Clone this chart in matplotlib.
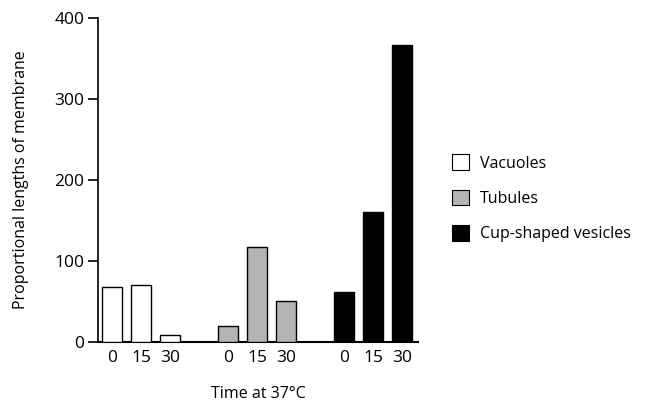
import numpy as np
import matplotlib.pyplot as plt
from matplotlib.patches import Patch

plt.rcParams['font.family'] = ['Open Sans', 'DejaVu Sans']

# data
times = ['0', '15', '30']
categories = ['Vacuoles', 'Tubules', 'Cup-shaped vesicles']
vacuoles = [68, 70, 9]
tubules = [19, 117, 51]
cup_vesicles = [62, 160, 366]

series = [vacuoles, tubules, cup_vesicles]
colors = ['white', '#b4b4b4', 'black']

fig = plt.figure(figsize=(6.46, 4.05), dpi=100)
ax = fig.add_axes([0.152, 0.156, 0.495, 0.800])

tick_pos = []
tick_lab = []
for g, (vals, col) in enumerate(zip(series, colors)):
    pos = np.arange(len(vals)) + 4 * g
    ax.bar(pos, vals, width=0.7, color=col, edgecolor='black', lw=1.0, zorder=3)
    tick_pos += list(pos)
    tick_lab += times

ax.set_xlim(-0.48, 10.55)
ax.set_ylim(0, 400)
ax.set_yticks([0, 100, 200, 300, 400])
ax.set_xticks(tick_pos)
ax.set_xticklabels(tick_lab)
ax.tick_params(axis='x', length=0, pad=6, labelsize=12.5)
ax.tick_params(axis='y', direction='out', length=7, width=1.2, labelsize=12.5, pad=3)

for s in ['top', 'right']:
    ax.spines[s].set_visible(False)
ax.spines['left'].set_linewidth(1.2)
ax.spines['bottom'].set_linewidth(1.5)

ax.set_ylabel('Proportional lengths of membrane', fontsize=11.5, labelpad=18)
ax.set_xlabel('Time at 37\u00b0C', fontsize=11.5, labelpad=14)

handles = [Patch(facecolor=c, edgecolor='black', lw=0.8) for c in colors]
fig.legend(handles, categories, loc='center left', bbox_to_anchor=(0.677, 0.51),
           frameon=False, fontsize=11.5, handlelength=1.1, handleheight=1.1,
           handletextpad=0.65, labelspacing=1.15)

fig.savefig('out.png', dpi=100, facecolor='w')
